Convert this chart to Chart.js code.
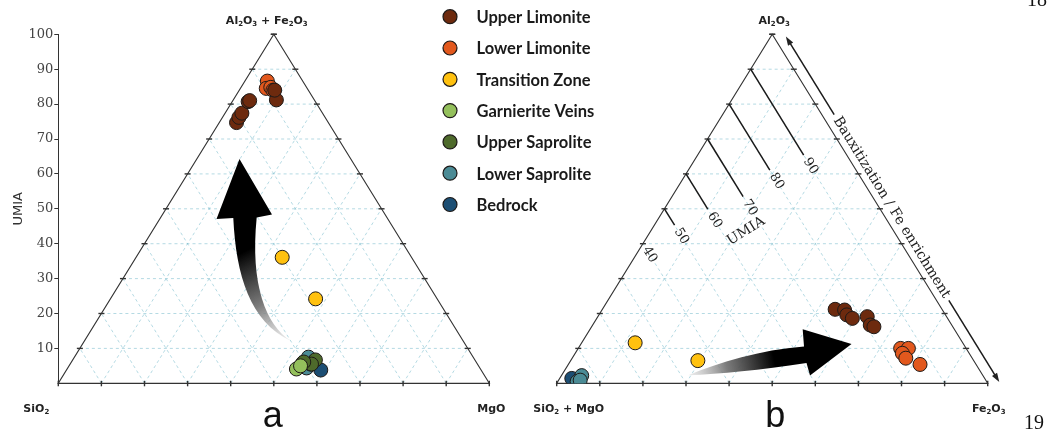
<!DOCTYPE html>
<html>
<head>
<meta charset="utf-8">
<script src="https://cdn.jsdelivr.net/npm/chart.js@4.4.1/dist/chart.umd.min.js"></script>
<style>
  html, body { margin: 0; padding: 0; background: #fff; }
  #wrap { position: relative; width: 1047px; height: 429px; }
</style>
</head>
<body>
<div id="wrap"><canvas id="c"></canvas></div>
<script>
// ---- categories ----
const categories = ['Upper Limonite', 'Lower Limonite', 'Transition Zone', 'Garnierite Veins',
                    'Upper Saprolite', 'Lower Saprolite', 'Bedrock'];
const categoryColors = ['#6d2a0e', '#e2581d', '#ffc10f', '#94c05c', '#4e6a2b', '#4b8b95', '#1c4e73'];

// ---- diagram a: [Al2O3 + Fe2O3 (UMIA), MgO] in %, SiO2 is the remainder ----
const aUpperLimonite   = [[74.7, 4.0], [76.2, 3.8], [77.4, 3.9], [80.7, 3.7], [81.0, 3.9], [81.2, 10.0], [84.0, 8.2]];
const aLowerLimonite   = [[86.6, 5.2], [84.5, 6.0], [84.8, 6.9], [84.0, 7.8]];
const aTransitionZone  = [[36.1, 33.9], [24.2, 47.6]];
const aGarnieriteVeins = [[4.1, 53.2], [5.0, 53.7]];
const aUpperSaprolite  = [[6.7, 56.3], [5.5, 56.0], [6.1, 53.9]];
const aLowerSaprolite  = [[7.5, 54.3], [5.8, 53.8], [4.4, 55.4], [5.5, 55.8]];
const aBedrock         = [[3.8, 59.0]];

// ---- diagram b: [Al2O3, Fe2O3] in %, SiO2 + MgO is the remainder ----
const bUpperLimonite   = [[21.2, 54.0], [21.0, 56.3], [19.6, 57.5], [18.6, 59.3], [19.1, 62.5], [16.7, 64.4], [16.2, 65.5]];
const bLowerLimonite   = [[10.0, 74.8], [10.0, 76.6], [8.6, 75.9], [7.2, 77.4], [5.4, 81.6]];
const bTransitionZone  = [[11.6, 12.4], [6.5, 29.5]];
const bGarnieriteVeins = [];
const bUpperSaprolite  = [];
const bLowerSaprolite  = [[2.2, 4.7], [0.5, 4.5], [0.9, 5.0]];
const bBedrock         = [[1.4, 2.8]];

// ---- axis / guide values ----
const umiaTicks = [10, 20, 30, 40, 50, 60, 70, 80, 90, 100];
const gridSteps = [10, 20, 30, 40, 50, 60, 70, 80, 90];
const isoUmia   = [40, 50, 60, 70, 80, 90];            // UMIA isolines in diagram b
const isoEndAl  = [40, 45.3, 49.9, 53.5, 61.1, 65.4];  // Al2O3 value where each isoline stops

const seriesA = [aUpperLimonite, aLowerLimonite, aTransitionZone, aGarnieriteVeins, aUpperSaprolite, aLowerSaprolite, aBedrock];
const seriesB = [bUpperLimonite, bLowerLimonite, bTransitionZone, bGarnieriteVeins, bUpperSaprolite, bLowerSaprolite, bBedrock];

// horizontal placement of the two triangles on the shared x scale
const X_MAX = 216;
const OFF_A = 0;
const OFF_B = 115.64;
const UNIT_PX = 4.31;

function toXY(off, pts) {
  return pts.map(([t, r]) => ({ x: off + r + t / 2, y: t }));
}

const datasets = [];
categories.forEach((name, i) => {
  const common = {
    label: name,
    backgroundColor: categoryColors[i],
    borderColor: '#1e1a18',
    borderWidth: 1,
    pointRadius: 7,
    pointHoverRadius: 7
  };
  datasets.push(Object.assign({ data: toXY(OFF_A, seriesA[i]) }, common));
  datasets.push(Object.assign({ data: toXY(OFF_B, seriesB[i]) }, common));
});

// ---- drawing helpers ----
function tp(chart, off, t, r) {
  return { x: chart.scales.x.getPixelForValue(off + r + t / 2), y: chart.scales.y.getPixelForValue(t) };
}
function vp(chart, x, y) {
  return { x: chart.scales.x.getPixelForValue(x), y: chart.scales.y.getPixelForValue(y) };
}
function seg(ctx, a, b) {
  ctx.beginPath(); ctx.moveTo(a.x, a.y); ctx.lineTo(b.x, b.y); ctx.stroke();
}
// chemical formula with subscript digits, centred on (cx, cy)
function chem(ctx, text, cx, cy, size) {
  const runs = [];
  for (let i = 0; i < text.length; i++) {
    const ch = text[i];
    const sub = /\d/.test(ch) && i > 0 && /[A-Za-z]/.test(text[i - 1]);
    if (runs.length && runs[runs.length - 1].sub === sub) runs[runs.length - 1].s += ch;
    else runs.push({ s: ch, sub });
  }
  const big = 'bold ' + size + 'px "DejaVu Sans"';
  const small = 'bold ' + Math.round(size * 0.68) + 'px "DejaVu Sans"';
  let w = 0;
  runs.forEach(r => { ctx.font = r.sub ? small : big; r.w = ctx.measureText(r.s).width; w += r.w; });
  let x = cx - w / 2;
  ctx.textAlign = 'left'; ctx.textBaseline = 'middle';
  runs.forEach(r => {
    ctx.font = r.sub ? small : big;
    ctx.fillText(r.s, x, r.sub ? cy + size * 0.3 : cy);
    x += r.w;
  });
}

function drawTriangleFrame(ctx, chart, off) {
  // dashed grid parallel to all three sides
  ctx.save();
  ctx.strokeStyle = 'rgba(120,188,204,0.55)';
  ctx.lineWidth = 1;
  ctx.setLineDash([3, 3]);
  gridSteps.forEach(g => {
    seg(ctx, tp(chart, off, g, 0), tp(chart, off, g, 100 - g));
    seg(ctx, tp(chart, off, 0, g), tp(chart, off, 100 - g, g));
    seg(ctx, tp(chart, off, 0, 100 - g), tp(chart, off, 100 - g, 0));
  });
  ctx.restore();

  // sides
  ctx.save();
  ctx.strokeStyle = '#333';
  ctx.lineWidth = 1.2;
  const L = tp(chart, off, 0, 0), R = tp(chart, off, 0, 100), T = tp(chart, off, 100, 0);
  ctx.beginPath(); ctx.moveTo(L.x, L.y); ctx.lineTo(T.x, T.y); ctx.lineTo(R.x, R.y); ctx.closePath(); ctx.stroke();

  // tick marks every 10 %
  ctx.lineWidth = 1.4;
  for (let k = 0; k <= 10; k++) {
    const v = k * 10;
    const b = tp(chart, off, 0, v);
    seg(ctx, { x: b.x, y: b.y - 2.5 }, { x: b.x, y: b.y + 3 });
    if (k > 0) {
      const l = tp(chart, off, v, 0), r = tp(chart, off, v, 100 - v);
      seg(ctx, { x: l.x - 3, y: l.y }, { x: l.x + 3, y: l.y });
      seg(ctx, { x: r.x - 3, y: r.y }, { x: r.x + 3, y: r.y });
    }
  }
  ctx.restore();
}

function fillArrow(ctx, chart, path, g0, g1) {
  const P = path.map(p => vp(chart, p[0], p[1]));
  const a = vp(chart, g0[0], g0[1]), b = vp(chart, g1[0], g1[1]);
  const grad = ctx.createLinearGradient(a.x, a.y, b.x, b.y);
  grad.addColorStop(0, 'rgba(225,225,225,0.55)');
  grad.addColorStop(0.45, 'rgba(110,110,110,0.9)');
  grad.addColorStop(1, '#000');
  ctx.save();
  ctx.fillStyle = grad;
  ctx.beginPath();
  // tail -> curve -> shaft -> head -> shaft -> curve -> tail
  ctx.moveTo(P[0].x, P[0].y);
  ctx.bezierCurveTo(P[1].x, P[1].y, P[2].x, P[2].y, P[3].x, P[3].y);
  ctx.lineTo(P[4].x, P[4].y);
  ctx.lineTo(P[5].x, P[5].y);
  ctx.lineTo(P[6].x, P[6].y);
  ctx.lineTo(P[7].x, P[7].y);
  ctx.bezierCurveTo(P[8].x, P[8].y, P[9].x, P[9].y, P[0].x, P[0].y);
  ctx.closePath();
  ctx.fill();
  ctx.restore();
}

// weathering trend arrows (x, y in chart units)
const trendArrowA = [[53.99, 12.12], [44.48, 17.56], [41.23, 31.03], [40.60, 47.36], [36.71, 47.08],
                     [42.04, 64.27], [49.58, 48.37], [46.03, 47.51], [44.48, 28.17], [48.19, 16.70]];
const trendArrowB = [[146.17, 2.32], [153.53, 6.10], [162.81, 9.54], [173.02, 10.54], [172.71, 15.47],
                     [184.04, 11.26], [174.41, 2.23], [173.60, 5.82], [162.81, 3.81], [153.53, 2.66]];

const ternaryPlugin = {
  id: 'ternary',
  beforeDatasetsDraw(chart) {
    const ctx = chart.ctx;
    drawTriangleFrame(ctx, chart, OFF_A);
    drawTriangleFrame(ctx, chart, OFF_B);

    // UMIA isolines (constant SiO2 + MgO) in diagram b
    const apex = tp(chart, OFF_B, 100, 0), corner = tp(chart, OFF_B, 0, 100);
    let dx = corner.x - apex.x, dy = corner.y - apex.y;
    const len = Math.hypot(dx, dy); dx /= len; dy /= len;
    const ang = Math.atan2(dy, dx);
    ctx.save();
    ctx.strokeStyle = '#1a1a1a';
    ctx.lineWidth = 1.5;
    ctx.fillStyle = '#222';
    ctx.font = '13px "DejaVu Serif"';
    ctx.textAlign = 'center';
    ctx.textBaseline = 'middle';
    isoUmia.forEach((u, i) => {
      const s = tp(chart, OFF_B, u, 0);
      const eT = isoEndAl[i];
      const e = tp(chart, OFF_B, eT, u - eT);
      if (eT < u) seg(ctx, s, e);
      ctx.save();
      ctx.translate(e.x + dx * 13, e.y + dy * 13);
      ctx.rotate(ang);
      ctx.fillText(String(u), 0, 0);
      ctx.restore();
    });
    // axis caption for the isolines
    const um = vp(chart, 159.6, 43.6);
    ctx.save();
    ctx.translate(um.x, um.y);
    ctx.rotate(ang - Math.PI / 2);
    ctx.font = '14px "DejaVu Serif"';
    ctx.fillText('UMIA', 0, 0);
    ctx.restore();

    // Bauxitization / Fe enrichment double arrow along the right side
    const nx = dy, ny = -dx; // outward normal
    const gap = 10.5;
    const p0 = { x: apex.x + nx * gap + dx * 9, y: apex.y + ny * gap + dy * 9 };
    const p1 = { x: corner.x + nx * gap + dx * 5, y: corner.y + ny * gap + dy * 5 };
    const L = Math.hypot(p1.x - p0.x, p1.y - p0.y);
    const label = 'Bauxitization / Fe enrichment';
    ctx.font = '14px "DejaVu Serif"';
    const tw = ctx.measureText(label).width;
    const cT = 0.495 * L;
    const half = tw / 2 + 4;
    const at = d => ({ x: p0.x + dx * d, y: p0.y + dy * d });
    seg(ctx, at(7), at(cT - half));
    seg(ctx, at(cT + half), at(L - 7));
    const head = (tip, sgn) => {
      const bx = tip.x - sgn * dx * 9, by = tip.y - sgn * dy * 9;
      ctx.beginPath();
      ctx.moveTo(tip.x, tip.y);
      ctx.lineTo(bx + nx * 3, by + ny * 3);
      ctx.lineTo(bx - nx * 3, by - ny * 3);
      ctx.closePath();
      ctx.fill();
    };
    head(p0, -1);
    head(p1, 1);
    const c = at(cT);
    ctx.save();
    ctx.translate(c.x, c.y);
    ctx.rotate(ang);
    ctx.fillText(label, 0, 0);
    ctx.restore();
    ctx.restore();

    // trend arrows
    fillArrow(ctx, chart, trendArrowA, [53.99, 12.12], [43.5, 38.0]);
    fillArrow(ctx, chart, trendArrowB, [146.17, 2.32], [166.0, 7.5]);
  },
  afterDraw(chart) {
    const ctx = chart.ctx;
    ctx.save();
    ctx.fillStyle = '#222';

    // corner labels
    const aL = tp(chart, OFF_A, 0, 0), aR = tp(chart, OFF_A, 0, 100), aT = tp(chart, OFF_A, 100, 0);
    const bL = tp(chart, OFF_B, 0, 0), bR = tp(chart, OFF_B, 0, 100), bT = tp(chart, OFF_B, 100, 0);
    chem(ctx, 'SiO2', aL.x - 22, aL.y + 26, 11);
    chem(ctx, 'MgO', aR.x + 2, aR.y + 26, 11);
    chem(ctx, 'Al2O3 + Fe2O3', aT.x - 7, aT.y - 13, 11);
    chem(ctx, 'SiO2 + MgO', bL.x + 12, bL.y + 26, 11);
    chem(ctx, 'Fe2O3', bR.x + 1, bR.y + 26, 11);
    chem(ctx, 'Al2O3', bT.x + 2, bT.y - 13, 11);

    // panel letters
    ctx.font = '36px "Liberation Sans"';
    ctx.textAlign = 'center';
    ctx.textBaseline = 'alphabetic';
    ctx.fillStyle = '#111';
    ctx.fillText('a', aT.x - 1, 427);
    ctx.fillText('b', bT.x + 3, 427);

    // page numbers
    ctx.font = '20px "Liberation Serif"';
    ctx.textAlign = 'left';
    ctx.fillText('18', 1027, 6);
    ctx.fillText('19', 1024, 429);

    // legend
    ctx.textAlign = 'left';
    ctx.textBaseline = 'middle';
    ctx.font = 'bold 16.5px Lato';
    categories.forEach((name, i) => {
      const y = 16.7 + i * 31.3;
      ctx.beginPath();
      ctx.arc(450, y, 7, 0, Math.PI * 2);
      ctx.fillStyle = categoryColors[i];
      ctx.fill();
      ctx.lineWidth = 1.2;
      ctx.strokeStyle = '#1e1a18';
      ctx.stroke();
      ctx.fillStyle = '#1a1a1a';
      ctx.fillText(name, 476.5, y + 1);
    });
    ctx.restore();
  }
};

new Chart(document.getElementById('c'), {
  type: 'scatter',
  data: { datasets },
  options: {
    responsive: true,
    maintainAspectRatio: false,
    animation: false,
    events: [],
    layout: { padding: { left: 0, top: 34.3, right: 1047 - (58.3 + X_MAX * UNIT_PX), bottom: 429 - 383.3 } },
    plugins: { legend: { display: false }, tooltip: { enabled: false } },
    scales: {
      x: { type: 'linear', min: 0, max: X_MAX, display: false },
      y: {
        type: 'linear', min: 0, max: 100, position: 'left',
        afterFit(s) { s.width = 58.3; },
        afterBuildTicks(s) { s.ticks = umiaTicks.map(v => ({ value: v })); },
        ticks: { font: { family: '"DejaVu Serif"', size: 13 }, color: '#444', padding: 1 },
        grid: { drawOnChartArea: false, drawTicks: true, tickLength: 4, color: '#333' },
        border: { display: true, color: '#333', width: 1 },
        title: { display: true, text: 'UMIA', color: '#333',
                 font: { family: '"DejaVu Sans"', size: 13 }, padding: { top: 11, bottom: 0 } }
      }
    }
  },
  plugins: [ternaryPlugin]
});
</script>
</body>
</html>
